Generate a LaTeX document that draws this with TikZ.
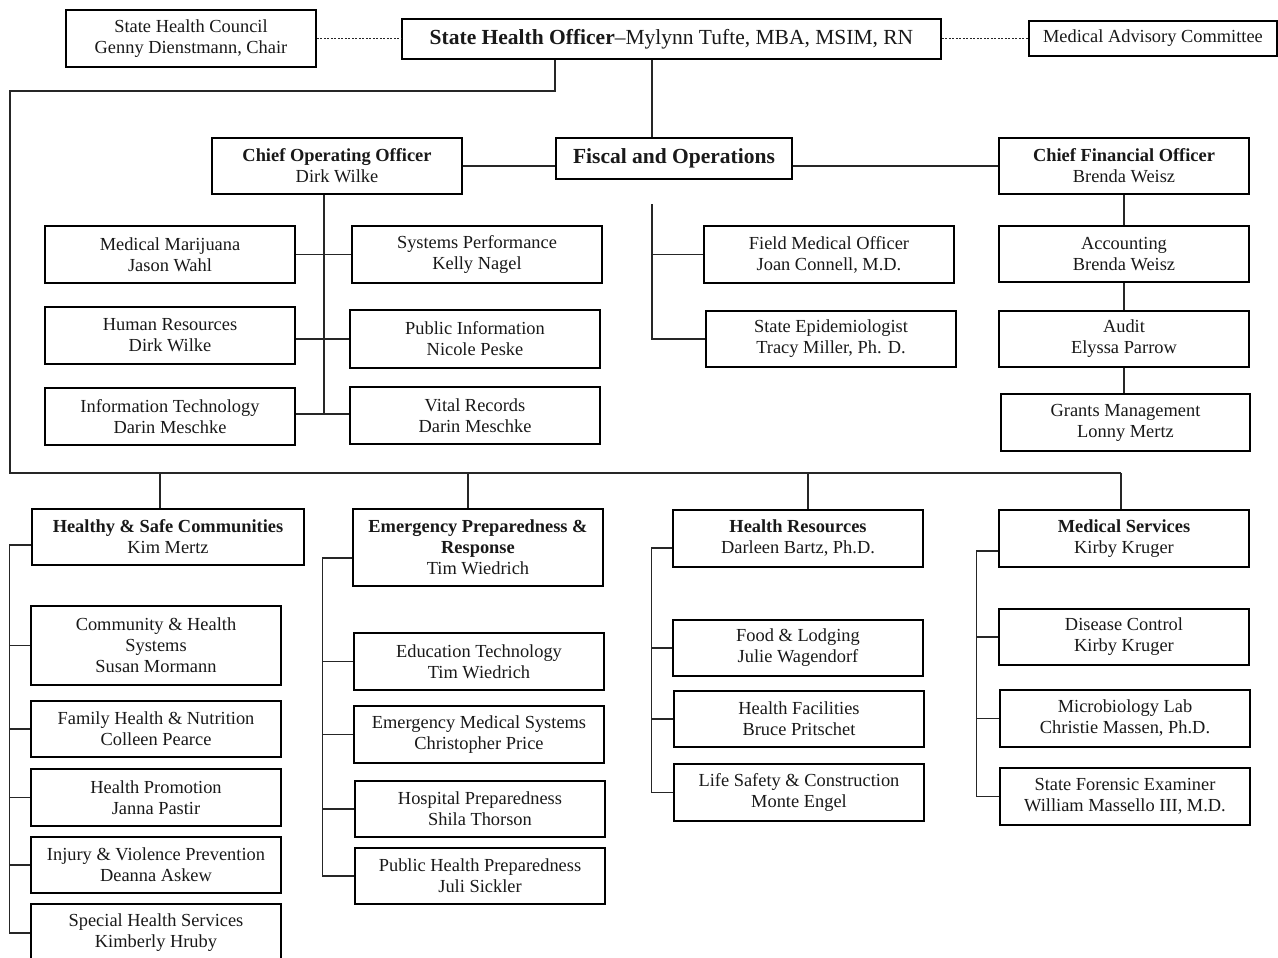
\documentclass[tikz,border=0pt]{standalone}
\usepackage{fontspec}
\setmainfont{Liberation Serif}
\usetikzlibrary{calc}
\tikzset{
  box/.style={draw=black, line width=1.6pt, fill=white, align=center, inner sep=0pt,
    font=\fontsize{18.4}{21}\selectfont, text=black!90},
  link/.style={draw=black!85, line width=1.2pt},
  dotlink/.style={draw=black!85, line width=1pt, dash pattern=on 2pt off 1.5pt}
}
\newcommand\orgbox[6]{\node[box, minimum width=#4pt, minimum height=#5pt] (#1) at (#2,#3) {#6};}
\begin{document}
\begin{tikzpicture}[x=1pt,y=-1pt]
\useasboundingbox (0,0) rectangle (1278,958);
\fill[white] (0,0) rectangle (1278,958);

% top level
\orgbox{shc}{191}{38.5}{250}{57}{State Health Council\\Genny Dienstmann, Chair}
\node[box, minimum width=539pt, minimum height=40pt, font=\fontsize{21.5}{24}\selectfont] (sho) at (671.5,39) {\textbf{State Health Officer}--Mylynn Tufte, MBA, MSIM, RN};
\orgbox{mac}{1153}{38.5}{248}{35}{Medical Advisory Committee}

% second level
\node[box, minimum width=236pt, minimum height=41pt, font=\fontsize{21.5}{24}\selectfont\bfseries] (fo) at (674,158.5) {Fiscal and Operations};
\orgbox{coo}{337}{166}{250}{56}{\textbf{Chief Operating Officer}\\Dirk Wilke}
\orgbox{cfo}{1124}{166}{250}{56}{\textbf{Chief Financial Officer}\\Brenda Weisz}

% COO units
\orgbox{mm}{170}{254.5}{250}{57}{Medical Marijuana\\Jason Wahl}
\orgbox{hr}{170}{335.5}{250}{57}{Human Resources\\Dirk Wilke}
\orgbox{it}{170}{416.5}{250}{57}{Information Technology\\Darin Meschke}
\orgbox{sp}{477}{254.5}{250}{57}{Systems Performance\\Kelly Nagel}
\orgbox{pi}{475}{339}{250}{58}{Public Information\\Nicole Peske}
\orgbox{vr}{475}{415.5}{250}{57}{Vital Records\\Darin Meschke}

% Fiscal units
\orgbox{fmo}{829}{254.5}{250}{57}{Field Medical Officer\\Joan Connell, M.D.}
\orgbox{se}{831}{339}{250}{56}{State Epidemiologist\\Tracy Miller, Ph. D.}

% CFO units
\orgbox{acc}{1124}{254}{250}{56}{Accounting\\Brenda Weisz}
\orgbox{aud}{1124}{339}{250}{56}{Audit\\Elyssa Parrow}
\orgbox{gm}{1125.5}{422.5}{249}{57}{Grants Management\\Lonny Mertz}

% sections
\orgbox{hsc}{168}{537}{272}{56}{\textbf{Healthy \& Safe Communities}\\Kim Mertz}
\orgbox{epr}{478}{547.5}{250}{77}{\textbf{Emergency Preparedness \&}\\\textbf{Response}\\Tim Wiedrich}
\orgbox{hres}{798}{538.5}{250}{57}{\textbf{Health Resources}\\Darleen Bartz, Ph.D.}
\orgbox{ms}{1124}{538.5}{250}{57}{\textbf{Medical Services}\\Kirby Kruger}

% HSC units
\orgbox{chs}{156}{645.5}{250}{79}{Community \& Health\\Systems\\Susan Mormann}
\orgbox{fhn}{156}{729}{250}{56}{Family Health \& Nutrition\\Colleen Pearce}
\orgbox{hp}{156}{797.5}{250}{57}{Health Promotion\\Janna Pastir}
\orgbox{ivp}{156}{865}{250}{56}{Injury \& Violence Prevention\\Deanna Askew}
\orgbox{shs}{156}{933}{250}{58}{Special Health Services\\Kimberly Hruby}

% EPR units
\orgbox{et}{479}{661.5}{250}{57}{Education Technology\\Tim Wiedrich}
\orgbox{ems}{479}{734.5}{250}{57}{Emergency Medical Systems\\Christopher Price}
\orgbox{hpp}{480}{809}{250}{56}{Hospital Preparedness\\Shila Thorson}
\orgbox{php}{480}{876}{250}{56}{Public Health Preparedness\\Juli Sickler}

% HR units
\orgbox{fl}{798}{648}{250}{56}{Food \& Lodging\\Julie Wagendorf}
\orgbox{hf}{799}{719}{250}{56}{Health Facilities\\Bruce Pritschet}
\orgbox{lsc}{799}{792.5}{250}{57}{Life Safety \& Construction\\Monte Engel}

% MS units
\orgbox{dc}{1124}{637}{250}{56}{Disease Control\\Kirby Kruger}
\orgbox{ml}{1125}{718.5}{250}{57}{Microbiology Lab\\Christie Massen, Ph.D.}
\orgbox{sfe}{1125}{796.5}{250}{57}{State Forensic Examiner\\William Massello III, M.D.}

% coordinates
\coordinate (t1) at (555,91);
\coordinate (t2) at (10,91);
\coordinate (t3) at (10,473);
\coordinate (t4) at (1121,473);
\coordinate (fx) at (652,0);
\coordinate (cv) at (324,414);
\coordinate (fv) at (652,204);

% connectors
\draw[dotlink] (shc.east |- sho.west) -- (sho.west);
\draw[dotlink] (sho.east) -- (mac.west |- sho.east);
\draw[link] (sho.south -| t1) -- (t1) -- (t2) -- (t3) -- (t4);
\draw[link] (sho.south -| fx) -- (fo.north -| fx);
\draw[link] (coo.east) -- (coo.east -| fo.west);
\draw[link] (cfo.west -| fo.east) -- (cfo.west);

\draw[link] (coo.south -| cv) -- (cv);
\draw[link] (mm.east) -- (sp.west);
\draw[link] (pi.west -| hr.east) -- (pi.west);
\draw[link] (it.east |- cv) -- (vr.west |- cv);

\draw[link] (fv) |- (se.west);
\draw[link] (fmo.west) -- (fmo.west -| fv);

\draw[link] (cfo.south) -- (acc.north);
\draw[link] (acc.south) -- (aud.north);
\draw[link] (aud.south) -- (aud.south |- gm.north);

% section drops
\draw[link] ([xshift=-8pt]hsc.north) -- ([xshift=-8pt]hsc.north |- t3);
\draw[link] ([xshift=-10pt]epr.north) -- ([xshift=-10pt]epr.north |- t3);
\draw[link] ([xshift=10pt]hres.north) -- ([xshift=10pt]hres.north |- t3);
\draw[link] ([xshift=-3pt]ms.north) -- ([xshift=-3pt]ms.north |- t4);

% brackets
\draw[link] ([yshift=-8pt]hsc.west) -- ++(-22,0) |- (shs.west);
\foreach \n in {chs,fhn,hp,ivp} \draw[link] (\n.west) -- ++(-21,0);

\draw[link] ([yshift=-10.5pt]epr.west) -- ++(-30,0) |- (php.west);
\foreach \n in {et,ems,hpp} \draw[link] (\n.west) -- ++(-31,0);

\draw[link] ([yshift=-9.5pt]hres.west) -- ++(-21,0) |- (lsc.west);
\foreach \n in {fl,hf} \draw[link] (\n.west) -- ++(-21,0);

\draw[link] ([yshift=-12.5pt]ms.west) -- ++(-22,0) |- (sfe.west);
\foreach \n in {dc,ml} \draw[link] (\n.west) -- ++(-22,0);
\end{tikzpicture}
\end{document}
